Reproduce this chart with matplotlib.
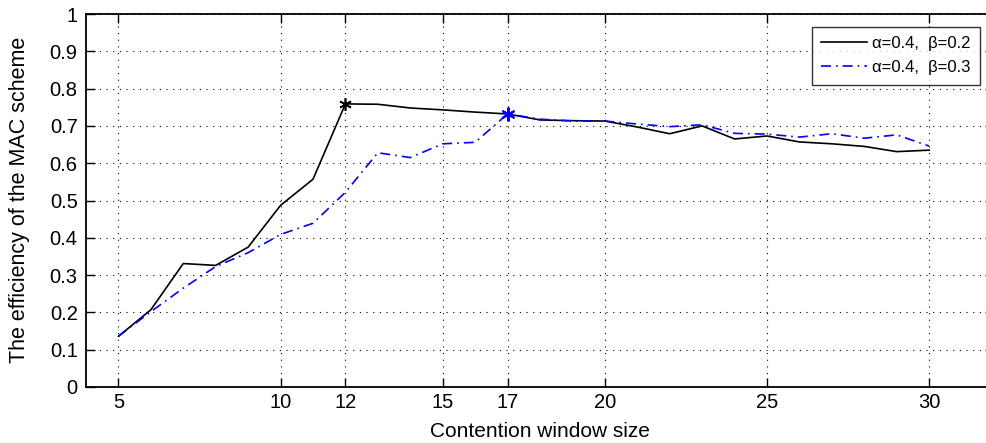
import matplotlib.pyplot as plt

plt.rcParams['font.family'] = ['Liberation Sans', 'DejaVu Sans']

# contention window sizes and efficiency values
window_size = list(range(5, 31))
eff_b02 = [0.136, 0.207, 0.331, 0.326, 0.375, 0.487, 0.557, 0.759, 0.758, 0.748,
           0.743, 0.737, 0.732, 0.716, 0.714, 0.713, 0.697, 0.679, 0.700, 0.665,
           0.673, 0.657, 0.652, 0.645, 0.631, 0.635]
eff_b03 = [0.136, 0.202, 0.265, 0.323, 0.360, 0.409, 0.439, 0.522, 0.628, 0.615,
           0.652, 0.656, 0.732, 0.718, 0.713, 0.713, 0.705, 0.698, 0.703, 0.680,
           0.678, 0.670, 0.679, 0.667, 0.676, 0.646]
x_ticks = [5, 10, 12, 15, 17, 20, 25, 30]
y_ticks = [0, 0.1, 0.2, 0.3, 0.4, 0.5, 0.6, 0.7, 0.8, 0.9, 1]
y_tick_labels = ['0', '0.1', '0.2', '0.3', '0.4', '0.5', '0.6', '0.7', '0.8', '0.9', '1']
peak_b02 = 12
peak_b03 = 17

fig = plt.figure(figsize=(9.86, 4.43), dpi=100)
# axes runs slightly past the right edge, like the cropped original
ax = fig.add_axes([86 / 986, 1 - 387 / 443, (994 - 86) / 986, (387 - 14) / 443])

ax.plot(window_size, eff_b02, color='black', linewidth=1.2, label='\u03b1=0.4,  \u03b2=0.2')
ax.plot(window_size, eff_b03, color='#0000ff', linewidth=1.2, linestyle=(0, (6, 3, 1, 3)),
        label='\u03b1=0.4,  \u03b2=0.3')

# asterisk markers at the peak of each curve
i = window_size.index(peak_b02)
ax.plot(window_size[i], eff_b02[i], marker=(6, 2, 0), color='black', markersize=9,
        markeredgewidth=1.2, linestyle='none')
j = window_size.index(peak_b03)
ax.plot(window_size[j], eff_b03[j], marker=(6, 2, 0), color='#0000ff', markersize=10,
        markeredgewidth=1.5, linestyle='none')

ax.set_xlim(4, 32)
ax.set_ylim(0, 1)
ax.set_xticks(x_ticks)
ax.set_yticks(y_ticks)
ax.set_yticklabels(y_tick_labels)
ax.tick_params(direction='in', top=True, right=True, labelsize=14.5, length=6.5, width=1)
ax.tick_params(axis='x', pad=4)
ax.tick_params(axis='y', pad=6)
ax.grid(True, color='black', linestyle=(0, (1, 5)), linewidth=0.8)
for s in ax.spines.values():
    s.set_linewidth(1.3)

ax.set_xlabel('Contention window size', fontsize=15)
ax.xaxis.set_label_coords(0.5, (387 - 441) / 373)
ax.set_ylabel('The efficiency of the MAC scheme', fontsize=15.5)
ax.yaxis.set_label_coords((9 - 86) / 908, (387 - 200) / 373)
ax.xaxis.label.set_va('bottom')
ax.yaxis.label.set_va('top')

leg = ax.legend(loc='upper right', bbox_to_anchor=((980 - 86) / 908, (387 - 27) / 373),
                borderaxespad=0, fontsize=12, frameon=True, fancybox=False,
                edgecolor='black', handlelength=2.8, handletextpad=0.3,
                borderpad=0.55, labelspacing=0.55)
leg.get_frame().set_linewidth(1.0)

plt.savefig('out.png', dpi=100)
